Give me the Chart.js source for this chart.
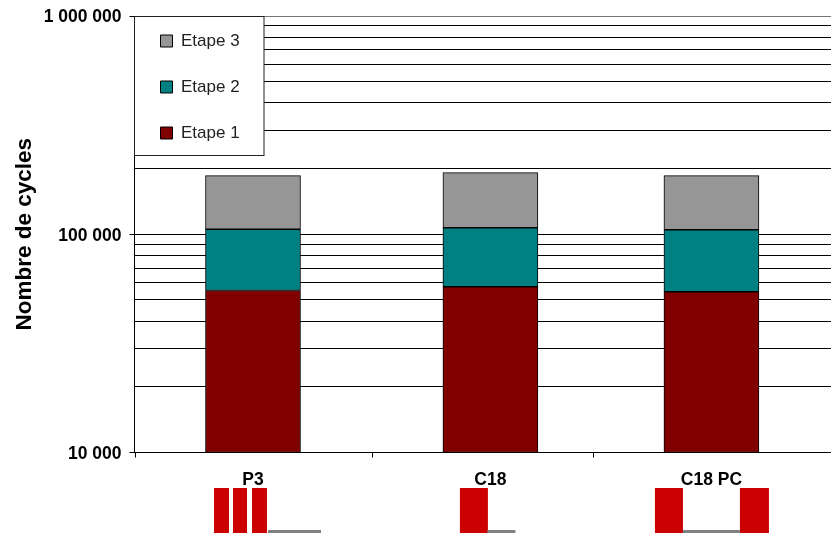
<!DOCTYPE html>
<html>
<head>
<meta charset="utf-8">
<style>html,body{margin:0;padding:0;background:#fff}canvas{display:block}</style>
<script src="https://cdn.jsdelivr.net/npm/chart.js@4"></script>
</head>
<body>
<canvas id="c" width="831" height="533"></canvas>
<script>
const categories = ['P3', 'C18', 'C18 PC'];
const categoryCenters = [0.5104, 1.533, 2.485];
const categoryBoundaries = [0, 1.023, 1.975, 3];
const etape1 = [55250, 57450, 54500];
const etape2 = [50150, 49650, 50350];
const etape3 = [80100, 84400, 80650];
const gridValues = [10000,20000,30000,40000,50000,60000,70000,80000,90000,100000,200000,300000,400000,500000,600000,700000,800000,900000,1000000];
const labelledValues = [10000,100000,1000000];

const FONT = '"Liberation Sans", Arial, sans-serif';
const fmt = v => String(v).replace(/\B(?=(\d{3})+$)/g, ' ');
const toPoints = arr => arr.map((y, i) => ({x: categoryCenters[i], y}));

// small architecture sketches below the category labels (offsets from each category centre)
const sketches = [
  {red: [[-39,15],[-20,14],[-1,15]], grey: [15,53]},
  {red: [[-30.5,28]], grey: [-3,28]},
  {red: [[-56.5,28],[28.5,29]], grey: [-28.5,57]}
];

const decorations = {
  id: 'decorations',
  beforeDraw(chart) {
    const lg = chart.legend;
    lg.left = 131.5; lg.top = 3.5;
  },
  afterDraw(chart) {
    const {ctx, scales: {x}, chartArea: a} = chart;
    ctx.save();
    ctx.strokeStyle = '#000'; ctx.lineWidth = 1;
    categoryBoundaries.forEach(b => {
      const p = Math.round(x.getPixelForValue(b)) + 0.5;
      ctx.beginPath(); ctx.moveTo(p, a.bottom); ctx.lineTo(p, a.bottom + 5); ctx.stroke();
    });
    sketches.forEach((s, i) => {
      const c = x.getPixelForValue(categoryCenters[i]);
      ctx.fillStyle = '#CC0000';
      s.red.forEach(([o, w]) => ctx.fillRect(c + o, 488, w, 45));
      ctx.fillStyle = '#808080';
      ctx.fillRect(c + s.grey[0], 530, s.grey[1], 3);
    });
    // legend frame, then legend on top of the grid
    ctx.fillStyle = '#fff'; ctx.strokeStyle = '#222';
    ctx.fillRect(134.5, 16.5, 129.5, 139);
    ctx.strokeRect(134.5, 16.5, 129.5, 139);
    ctx.restore();
    chart.legend.draw();
  }
};

new Chart(document.getElementById('c'), {
  type: 'bar',
  data: {
    datasets: [
      {label: 'Etape 1', data: toPoints(etape1), backgroundColor: '#800000'},
      {label: 'Etape 2', data: toPoints(etape2), backgroundColor: '#008080'},
      {label: 'Etape 3', data: toPoints(etape3), backgroundColor: '#969696'}
    ].map(d => Object.assign(d, {borderColor: '#000', borderWidth: 1, borderSkipped: false, barThickness: 95}))
  },
  options: {
    responsive: false,
    animation: false,
    layout: {padding: {top: 16, right: 0, left: 0, bottom: 0}},
    plugins: {
      tooltip: {enabled: false},
      legend: {
        position: 'chartArea',
        align: 'start',
        reverse: true,
        labels: {boxWidth: 12, boxHeight: 12, padding: 29, color: '#222', font: {family: FONT, size: 17}}
      }
    },
    scales: {
      x: {
        type: 'linear', min: 0, max: 3, stacked: true, offset: false,
        afterBuildTicks: s => { s.ticks = categoryCenters.map(value => ({value})); },
        afterFit: s => { s.height = 80.5; s.paddingLeft = 0; s.paddingRight = 0; },
        grid: {display: false},
        border: {display: true, color: '#000', width: 1},
        ticks: {
          autoSkip: false, maxRotation: 0, padding: 9, color: '#000',
          font: {family: FONT, size: 17.5, weight: 'bold'},
          callback: (v, i) => categories[i]
        }
      },
      y: {
        type: 'logarithmic', min: 10000, max: 1000000, stacked: true,
        afterBuildTicks: s => { s.ticks = gridValues.map(value => ({value})); },
        afterFit: s => { s.width = 134.5; s.paddingTop = 0; s.paddingBottom = 0; },
        grid: {
          color: c => c.tick && c.tick.value === 1000000 ? '#777' : '#000',
          lineWidth: 1, tickLength: 5,
          tickColor: c => labelledValues.includes(c.tick.value) ? '#000' : 'transparent'
        },
        border: {display: true, color: '#000', width: 1},
        ticks: {
          autoSkip: false, padding: 8, color: '#000', labelOffset: 1.5,
          font: {family: FONT, size: 17.5, weight: 'bold'},
          callback: v => labelledValues.includes(v) ? fmt(v) : ''
        },
        title: {
          display: true, text: 'Nombre de cycles', color: '#000',
          font: {family: FONT, size: 22.5, weight: 'bold'},
          padding: {top: 11, bottom: 0}
        }
      }
    }
  },
  plugins: [decorations]
});
</script>
</body>
</html>
